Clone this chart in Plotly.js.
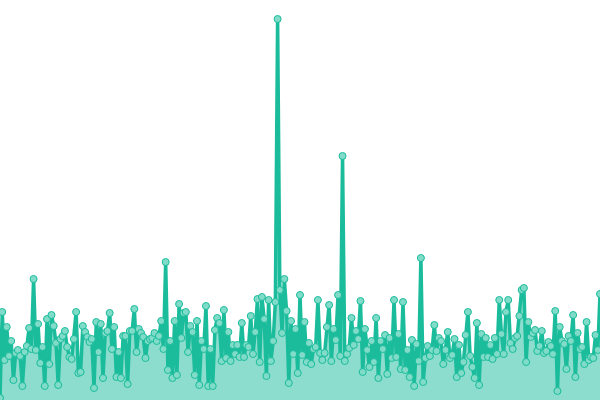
<!DOCTYPE html>
<html>
<head>
<meta charset="utf-8">
<script src="https://cdn.plot.ly/plotly-3.0.1.min.js"></script>
<style>html,body{margin:0;padding:0;background:#fff}#chart{width:600px;height:400px}</style>
</head>
<body>
<div id="chart"></div>
<script>
const valuesA = [2,88,40,73,44,59,20,47,50,44,14,48,54,72,51,121,50,76,37,53,14,81,36,85,74,57,15,61,64,69,53,43,41,61,88,27,28,74,68,63,58,61,12,78,48,76,22,67,69,87,51,73,23,48];
const valuesB = [22,64,64,16,69,69,91,48,71,67,63,42,59,61,62,67,59,64,79,51,138,30,59,22,79,25,96,62,87,88,48,74,68,25,79,15,59,51,94,14,51,14,70,82,77,39,90,42,68,39,55,46,55,43];
const valuesC = [77,43,55,53,84,46,68,101,38,103,81,24,100,39,59,98,381,110,67,121,89,17,79,46,71,27,105,45,78,38,57,36,51,53,100,47,40,47,73,95,39,71,60,105,44,244,39,46,52,82,55,69,61,99];
const valuesD = [28,71,50,33,59,38,82,22,59,51,65,26,62,42,100,43,66,31,98,30,50,23,60,14,56,39,142,18,42,54,44,50,75,49,62,59,36,50,68,42,45,61,23,55,27,38,65,88,44,33,22,77,15,66];
const valuesE = [43,62,43,55,41,62,46,100,66,46,88,100,57,51,62,64,84,110,112,38,78,63,67,70,49,54,69,47,49,58,54,46,89,9,73,59,56,31,64,59,85,23,67,51,53,36,78,40,43,42,65,50,106];

const values = valuesA.concat(valuesB, valuesC, valuesD, valuesE);
const xs = values.map((_, i) => i);

Plotly.newPlot('chart', [{
  x: xs,
  y: values,
  type: 'scatter',
  mode: 'lines+markers',
  fill: 'tozeroy',
  fillcolor: 'rgba(26,188,156,0.5)',
  line: {color: '#1abc9c', width: 3.5},
  marker: {size: 7, color: '#80dcc8', line: {color: '#1abc9c', width: 1}},
  hoverinfo: 'none'
}], {
  width: 600, height: 400,
  margin: {l: 0, r: 0, t: 0, b: 0, pad: 0},
  paper_bgcolor: '#ffffff', plot_bgcolor: '#ffffff',
  showlegend: false,
  xaxis: {visible: false, range: [0, values.length - 1], fixedrange: true},
  yaxis: {visible: false, range: [0, 400], fixedrange: true}
}, {displayModeBar: false, staticPlot: true});
</script>
</body>
</html>
